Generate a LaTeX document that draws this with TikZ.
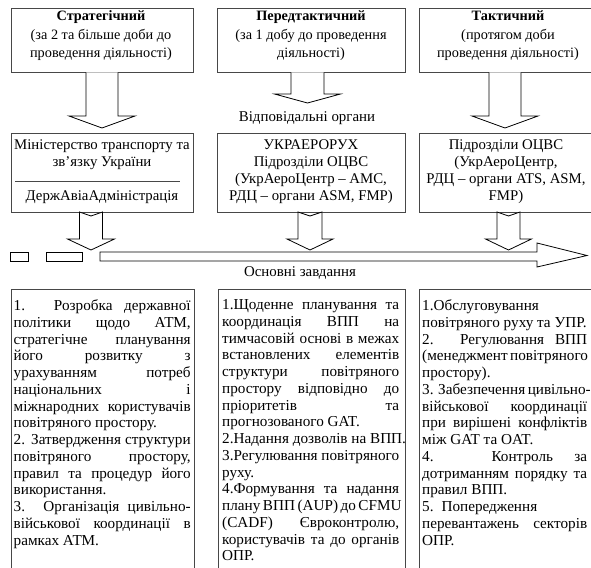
\documentclass[tikz,border=0pt]{standalone}
\usepackage{fontspec}
\setmainfont{Liberation Serif}
\newcommand\Ja[1]{\makebox[177pt][s]{#1}}
\newcommand\Jc[1]{\makebox[165pt][s]{#1}}
\newcommand\dnarrow[6]{%
  \draw[blk] (#1-#3,#2) -- (#1-#3,#5) -- (#1-#4,#5) -- (#1,#6) -- (#1+#4,#5) -- (#1+#3,#5) -- (#1+#3,#2);}
\newcommand\notcharrow[6]{%
  \draw[blk] (#1-#3,#2) -- (#1,#2+4) -- (#1+#3,#2) -- (#1+#3,#5) -- (#1+#4,#5) -- (#1,#6) -- (#1-#4,#5) -- (#1-#3,#5) -- cycle;}
\tikzset{
  box/.style={draw=black!72, line width=0.8pt, inner sep=0pt},
  blk/.style={draw=black, line width=0.8pt, fill=white},
  ttl/.style={align=center, inner sep=0pt, font=\fontsize{14.3}{18.5}\selectfont},
  mid/.style={align=center, inner sep=0pt, font=\fontsize{14.8}{17}\selectfont},
  body/.style={align=left, inner sep=0pt, anchor=north west, font=\fontsize{15.2}{16.75}\selectfont},
  lbl/.style={inner sep=0pt, font=\fontsize{14.9}{17}\selectfont}
}
\begin{document}
\begin{tikzpicture}[x=1pt,y=-1pt]
\useasboundingbox (0,0) rectangle (591,567);
\clip (0,0) rectangle (591,567);
% top boxes
\node[box, anchor=north west, minimum width=182pt, minimum height=64pt] (s1) at (11,8) {};
\node[box, anchor=north west, minimum width=188pt, minimum height=64pt] (s2) at (217,8) {};
\node[box, anchor=north west, minimum width=180pt, minimum height=64pt] (s3) at (419,8) {};
\node[ttl, anchor=north] (t1) at (101,10.5) {\textbf{Стратегічний}\\(за 2 та більше доби до\\проведення діяльності)};
\node[ttl, anchor=north] (t2) at (311,10.5) {\textbf{Передтактичний}\\(за 1 добу до проведення\\діяльності)};
\node[ttl, anchor=north] (t3) at (508,10.5) {\textbf{Тактичний}\\(протягом доби\\проведення діяльності)};
% top arrows
\dnarrow{102}{72.4}{16}{33}{116}{128}
\dnarrow{307.5}{72.4}{16.5}{33}{94}{103}
\dnarrow{505}{72.4}{16}{33}{116}{128}
\node[lbl] (resp) at (307,118) {Відповідальні органи};
% middle boxes
\node[box, anchor=north west, minimum width=182pt, minimum height=79pt] (m1) at (11,133) {};
\node[box, anchor=north west, minimum width=188pt, minimum height=79pt] (m2) at (217,133) {};
\node[box, anchor=north west, minimum width=180pt, minimum height=79pt] (m3) at (419,133) {};
\node[mid, anchor=north] (mt1) at (102,139.5) {Міністерство транспорту та\\зв'язку України};
\draw[black!72, line width=0.6pt] (15,181) -- (180,181);
\node[mid, anchor=north] (mt1b) at (102,190.5) {ДержАвіаАдміністрація};
\node[mid, anchor=north] (mt2) at (311,139.5) {УКРАЕРОРУХ\\Підрозділи ОЦВС\\(УкрАероЦентр – АМС,\\РДЦ – органи ASM, FMP)};
\node[mid, anchor=north] (mt3) at (506,139.5) {Підрозділи ОЦВС\\(УкрАероЦентр,\\РДЦ – органи ATS, ASM,\\FMP)};
% second arrows
\notcharrow{91}{212}{11.5}{23.5}{239}{250}
\notcharrow{310}{212}{12}{23}{239}{250}
\notcharrow{508.5}{212}{11.5}{23}{239}{250}
% horizontal bar
\draw[blk] (10,252) rectangle (28,261);
\draw[blk] (46,252) rectangle (82,261);
\draw[blk] (100,252) -- (537,252) -- (537,243) -- (587,255.5) -- (537,267) -- (537,261) -- (100,261) -- cycle;
\node[lbl] (tasks) at (300,273) {Основні завдання};
% bottom boxes
\draw[box] (11,575) -- (11,289) -- (194,289) -- (194,575);
\draw[box] (218,575) -- (218,289) -- (405,289) -- (405,575);
\draw[box] (419,575) -- (419,289) -- (600,289) -- (600,575);
\node[body] (b1) at (13.5,299.5) {%
\Ja{1. Розробка державної}\\
\Ja{політики щодо АТМ,}\\
\Ja{стратегічне планування}\\
\Ja{його розвитку з}\\
\Ja{урахуванням потреб}\\
\Ja{національних і}\\
\Ja{міжнародних користувачів}\\
повітряного простору.\\
\Ja{2. Затвердження структури}\\
\Ja{повітряного простору,}\\
\Ja{правил та процедур його}\\
використання.\\
\Ja{3. Організація цивільно-}\\
\Ja{військової координації в}\\
рамках АТМ.};
\node[body] (b2) at (222,299.5) {%
\Ja{1.Щоденне планування та}\\
\Ja{координація ВПП на}\\
\Ja{тимчасовій основі в межах}\\
\Ja{встановлених елементів}\\
\Ja{структури повітряного}\\
\Ja{простору відповідно до}\\
\Ja{пріоритетів та}\\
прогнозованого GAT.\\
2.Надання дозволів на ВПП.\\
\Ja{3.Регулювання повітряного}\\
руху.\\
\Ja{4.Формування та надання}\\
\Ja{плану ВПП (AUP) до CFMU}\\
\Ja{(CADF) Євроконтролю,}\\
\Ja{користувачів та до органів}\\
ОПР.};
\node[body] (b3) at (422,299.5) {%
1.Обслуговування\\
повітряного руху та УПР.\\
\Jc{2. Регулювання ВПП}\\
\Jc{(менеджмент повітряного}\\
простору).\\
\Jc{3. Забезпечення цивільно-}\\
\Jc{військової координації}\\
\Jc{при вирішені конфліктів}\\
між GAT та OAT.\\
\Jc{4. Контроль за}\\
\Jc{дотриманням порядку та}\\
правил ВПП.\\
5.\hspace{8pt}Попередження\\
\Jc{перевантажень секторів}\\
ОПР.};
\end{tikzpicture}
\end{document}
